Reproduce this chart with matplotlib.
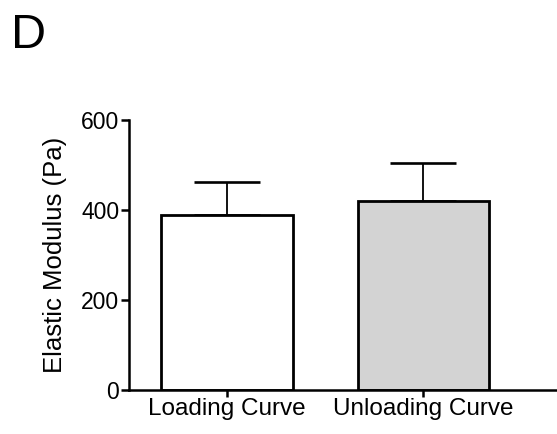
import numpy as np
import matplotlib
matplotlib.use("Agg")
import matplotlib.pyplot as plt

# data
categories = ["Loading Curve", "Unloading Curve"]
means = [389, 420]
errors = [73, 84]
colors = ["white", "#d3d3d3"]

plt.rcParams['font.family'] = ['Liberation Sans', 'DejaVu Sans']

fig = plt.figure(figsize=(5.57, 4.34), dpi=100)
ax = fig.add_axes([0.2316, 0.1014, 0.7684, 0.6221])

x = np.arange(len(categories))
ax.bar(x, means, width=0.67, color=colors, edgecolor="black", linewidth=2.0, zorder=2)
ax.errorbar(x, means, yerr=[np.zeros(len(means)), errors], fmt="none",
            ecolor="black", elinewidth=1.3, capsize=24, capthick=1.9, zorder=1)

ax.set_xlim(-0.5, 1.68)
ax.set_ylim(0, 600)
ax.set_yticks([0, 200, 400, 600])
ax.set_xticks(x)
ax.set_xticklabels(categories, fontsize=17.5)
ax.tick_params(axis="y", labelsize=16.5, length=6, width=1.8, pad=1)
ax.tick_params(axis="x", length=5, width=1.8, pad=1)

for side in ["top", "right"]:
    ax.spines[side].set_visible(False)
for side in ["left", "bottom"]:
    ax.spines[side].set_linewidth(1.8)

ax.set_ylabel("Elastic Modulus (Pa)", fontsize=18.5, labelpad=10)
fig.text(0.02, 0.97, "D", fontsize=35, ha="left", va="top")

fig.savefig("out.png", dpi=100)
